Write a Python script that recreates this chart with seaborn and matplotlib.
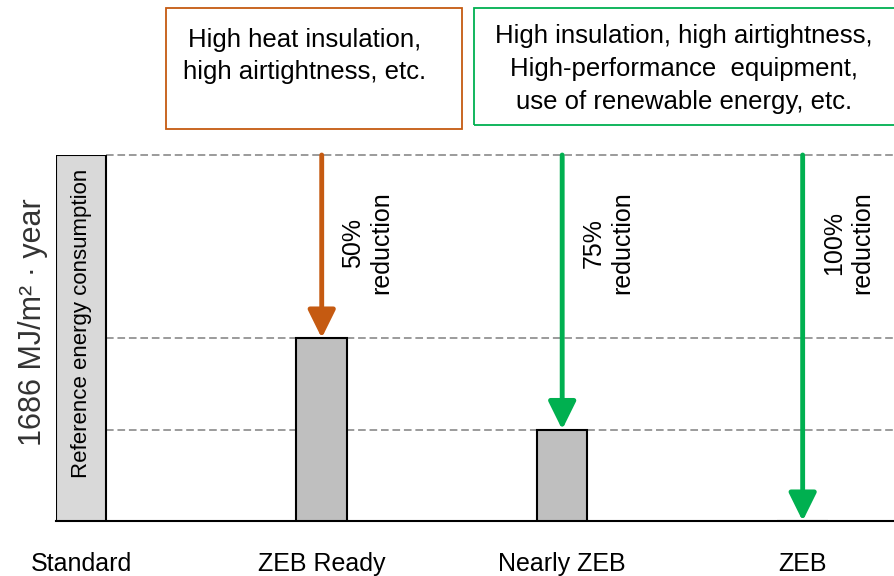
import matplotlib
matplotlib.use("Agg")
import matplotlib.pyplot as plt
import seaborn as sns
import pandas as pd
from matplotlib.patches import Rectangle

# Building stages and their energy use as % of the reference consumption
stages = ["Standard", "ZEB Ready", "Nearly ZEB", "ZEB"]
energy_share = [100, 50, 25, 0]
reductions = [None, "50%", "75%", "100%"]

bar_colors = ["#d9d9d9", "#bfbfbf", "#bfbfbf", "#bfbfbf"]
arrow_colors = [None, "#c55a11", "#00b050", "#00b050"]

reference_label = "Reference energy consumption"
unit_label = "1686 MJ/m² · year"
measures_ready = "High heat insulation,\nhigh airtightness, etc."
measures_zeb = ("High insulation, high airtightness,\n"
                "High-performance  equipment,\n"
                "use of renewable energy, etc.")

sns.set_theme(style="white")
plt.rcParams["font.family"] = ["Liberation Sans", "DejaVu Sans"]

W, H = 895, 576
fig = plt.figure(figsize=(W / 100, H / 100), dpi=100)
ax = fig.add_axes([56 / W, 55 / H, (W - 56) / W, 366 / H])

df = pd.DataFrame({"stage": stages, "share": energy_share})
bar_w = 0.21
sns.barplot(data=df, x="stage", y="share", hue="stage", order=stages,
            hue_order=stages, palette=bar_colors, legend=False, width=bar_w,
            edgecolor="black", linewidth=1.5, saturation=1, ax=ax, zorder=3)

x_left = -bar_w / 2
x_right = 3.384
ax.set_xlim(x_left, x_right)
ax.set_ylim(0, 100)

# dashed guide lines at each remaining consumption level
start = bar_w / (x_right - x_left)
for level in [v for v in energy_share if v > 0]:
    ax.axhline(level, xmin=start, xmax=1, color="#808080", lw=1.1,
               linestyle=(0, (5, 2.5)), zorder=1, clip_on=False)

# reduction arrows from the reference level down to each target
for i, (v, c, r) in enumerate(zip(energy_share, arrow_colors, reductions)):
    if c is None:
        continue
    ax.annotate("", xy=(i, v), xytext=(i, energy_share[0]),
                arrowprops=dict(arrowstyle="-|>,head_width=0.42,head_length=0.85",
                                color=c, lw=3.5, shrinkA=0, shrinkB=0,
                                mutation_scale=20),
                annotation_clip=False, zorder=4)
    ax.text(i + 0.19, 76, f"{r}\nreduction", rotation=90, ha="center",
            va="center", multialignment="center", fontsize=18,
            linespacing=1.2, color="black")

ax.text(0, 54, reference_label, rotation=90, ha="center", va="center",
        fontsize=16, color="black", zorder=5)

sns.despine(ax=ax, left=True, top=True, right=True)
ax.spines["bottom"].set_color("black")
ax.spines["bottom"].set_linewidth(1.5)
ax.set_yticks([])
ax.tick_params(axis="x", length=0, pad=22, labelsize=18, colors="black")
ax.set_xlabel("")
ax.set_ylabel("")

fig.text(33 / W, 1 - 322 / H, unit_label, rotation=90, ha="center",
         va="center", fontsize=22, color="#333333")

# measure boxes above the chart
fig.add_artist(Rectangle((166 / W, 1 - 129 / H), 296 / W, 121 / H,
                         transform=fig.transFigure, fill=False,
                         edgecolor="#c55a11", lw=1.3))
fig.add_artist(Rectangle((474 / W, 1 - 125 / H), 430 / W, 117 / H,
                         transform=fig.transFigure, fill=False,
                         edgecolor="#00b050", lw=1.3, clip_on=False))
fig.text(305 / W, 1 - 56 / H, measures_ready, ha="center", va="center",
         fontsize=18.5, linespacing=1.45, color="black")
fig.text(684 / W, 1 - 69 / H, measures_zeb, ha="center", va="center",
         fontsize=18.5, linespacing=1.45, color="black")

fig.savefig("out.png", dpi=100, facecolor="white")
